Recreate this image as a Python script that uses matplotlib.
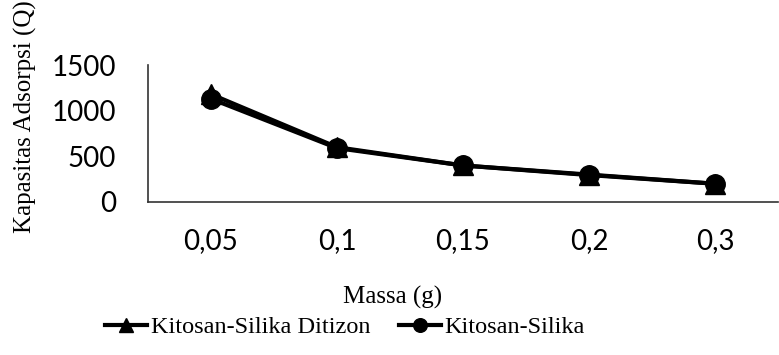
import matplotlib.pyplot as plt
import numpy as np

massa = ["0,05", "0,1", "0,15", "0,2", "0,3"]
ditizon = [1180, 600, 400, 300, 200]
silika = [1130, 590, 400, 295, 200]

TICK_FONT = "Lato"
LABEL_FONT = "Liberation Serif"

fig = plt.figure(figsize=(7.79, 3.55), dpi=100)
ax = fig.add_axes([148 / 779, 1 - 202 / 355, 630 / 779, 137 / 355])

x = np.arange(len(massa))
ax.plot(x, ditizon, color="black", lw=3, marker="^", markersize=15,
        label="Kitosan-Silika Ditizon")
ax.plot(x, silika, color="black", lw=3, marker="o", markersize=14,
        label="Kitosan-Silika")

ax.set_xlim(-0.5, len(massa) - 0.5)
ax.set_ylim(0, 1500)
ax.set_yticks([0, 500, 1000, 1500])
ax.set_xticks(x)
ax.set_xticklabels(massa)
for lab in ax.get_xticklabels() + ax.get_yticklabels():
    lab.set_fontfamily(TICK_FONT)
    lab.set_fontsize(20)
ax.tick_params(axis="x", length=0, pad=19)
ax.tick_params(axis="y", length=0, pad=23)

for s in ["top", "right"]:
    ax.spines[s].set_visible(False)
ax.spines["left"].set_color("#333333")
ax.spines["bottom"].set_color("#333333")
ax.spines["left"].set_linewidth(1.2)
ax.spines["bottom"].set_linewidth(1.2)

fig.text(393 / 779, 1 - 297 / 355, "Massa (g)", fontfamily=LABEL_FONT,
         fontsize=18, ha="center", va="center")
fig.text(25 / 779, 1 - 117 / 355, "Kapasitas Adsorpsi (Q)", fontfamily=LABEL_FONT,
         fontsize=18, rotation=90, ha="center", va="center")

fig.legend(loc="center", bbox_to_anchor=(345 / 779, 1 - 327 / 355), ncol=2,
           frameon=False, prop={"family": LABEL_FONT, "size": 17.5},
           markerscale=0.7, handlelength=1.75, handletextpad=0.15,
           columnspacing=1.15, borderaxespad=0, borderpad=0)

fig.savefig("out.png", dpi=100)
